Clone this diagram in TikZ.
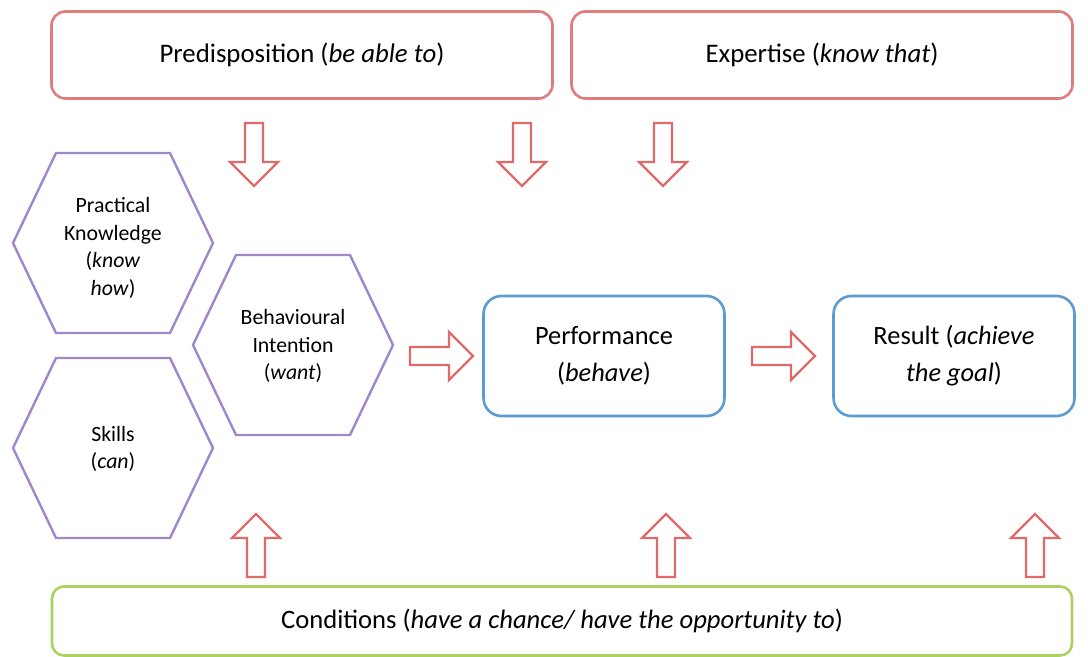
\documentclass[tikz,border=0pt]{standalone}
\usepackage{fontspec}
\setmainfont{Carlito}
\usetikzlibrary{positioning}

\definecolor{boxred}{HTML}{E07C7C}
\definecolor{arrowred}{HTML}{E06A6A}
\definecolor{hexpurple}{HTML}{9E88C9}
\definecolor{boxblue}{HTML}{5C9BD3}
\definecolor{boxgreen}{HTML}{ABD160}

\tikzset{
  topbox/.style={draw=boxred, line width=1.3pt, rounded corners=7pt,
    minimum width=250.5pt, minimum height=43.5pt,
    font=\fontsize{13.4}{16}\selectfont},
  midbox/.style={draw=boxblue, line width=1.3pt, rounded corners=9pt,
    minimum width=120.5pt, minimum height=60pt, align=center,
    font=\fontsize{13.2}{18.5}\selectfont},
  basebox/.style={draw=boxgreen, line width=1.3pt, rounded corners=6pt,
    minimum width=510pt, minimum height=34.5pt,
    font=\fontsize{13.3}{16}\selectfont},
  hextext/.style={align=center, font=\fontsize{10.9}{13.8}\selectfont},
  hexline/.style={draw=hexpurple, line width=1.2pt},
  arrowline/.style={draw=arrowred, line width=1.1pt, fill=white},
  hexcell/.pic={\draw[hexline] (-100,0) -- (-57,-90) -- (57,-90)
    -- (100,0) -- (57,90) -- (-57,90) -- cycle;},
  blockarrow/.pic={\draw[arrowline] (-9,0) -- (-9,39) -- (-24,39)
    -- (0,63) -- (24,39) -- (9,39) -- (9,0) -- cycle;}
}

\begin{document}
\begin{tikzpicture}[x=0.5pt,y=-0.5pt]
\useasboundingbox (0,0) rectangle (1088,657);

% Top row
\node[topbox] (predisp) at (302,55) {Predisposition (\textit{be able to})};
\node[topbox] (expert) at (822,55) {Expertise (\textit{know that})};

% Hexagons on the left
\pic at (113,243) {hexcell};
\pic at (113,448) {hexcell};
\pic at (293,345) {hexcell};
\node[hextext] (practical) at (113,248)
  {Practical\\Knowledge\\(\textit{know}\\\textit{how})};
\node[hextext] (skills) at (113,449) {Skills\\(\textit{can})};
\node[hextext] (intention) at (293,346)
  {Behavioural\\Intention\\(\textit{want})};

% Performance and result
\node[midbox] (perform) at (604,356) {Performance\\(\textit{behave})};
\node[midbox] (result) at (954,356) {Result (\textit{achieve}\\\textit{the goal})};

% Bottom bar
\node[basebox] (cond) at (562,621)
  {Conditions (\textit{have a chance/ have the opportunity to})};

% Block arrows
\foreach \ax in {254,522,663}
  \pic at (\ax,123) {blockarrow};
\foreach \ax in {256,666,1035}
  \pic[rotate=180] at (\ax,577) {blockarrow};
\pic[rotate=90] at (410,356) {blockarrow};
\pic[rotate=90] at (752,356) {blockarrow};
\end{tikzpicture}
\end{document}
